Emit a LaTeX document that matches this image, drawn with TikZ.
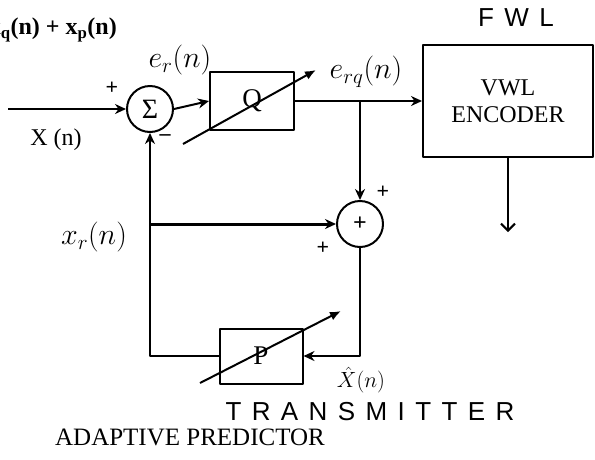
\RequirePackage{fix-cm}
\documentclass[tikz,border=0pt]{standalone}
\usepackage{fontspec}
\setmainfont{Liberation Serif}
\newfontfamily\handfont[LetterSpace=40]{Liberation Sans}
\usetikzlibrary{positioning,arrows.meta}
\tikzset{
  flowarrow/.style={-{Stealth[length=11pt, width=10pt]}, line width=2pt},
  outarrow/.style={-{Straight Barb[length=7pt, width=14pt]}, line width=2pt},
  tuner/.style={-{Latex[length=11pt, width=9pt]}, line width=2pt},
  blockbox/.style={draw, line width=2pt, align=center, font=\fontsize{24}{27}\selectfont},
  sumnode/.style={draw, circle, line width=2pt, minimum size=46pt, inner sep=0pt, font=\fontsize{26}{26}\selectfont},
  signlabel/.style={font=\fontsize{22}{22}\selectfont\bfseries, inner sep=1pt},
  mathlabel/.style={font=\fontsize{30}{32}\selectfont, inner sep=1pt},
  textlabel/.style={font=\fontsize{24}{26}\selectfont, inner sep=1pt},
  handlabel/.style={font=\fontsize{26}{28}\selectfont\handfont, inner sep=1pt}
}
\begin{document}
\begin{tikzpicture}[x=1pt, y=-1pt, line join=round]
  \useasboundingbox (0,0) rectangle (595,459);

  \node[sumnode, font=\fontsize{28}{28}\selectfont] (sum) at (150,109) {Σ};
  \node[blockbox, minimum width=84pt, minimum height=58pt, font=\fontsize{27}{27}\selectfont] (quant) at (252,101) {Q};
  \node[blockbox, minimum width=170pt, minimum height=112pt] (enc) at (508,101) {VWL\\ENCODER};
  \node[sumnode, font=\fontsize{24}{24}\selectfont\bfseries] (add) at (360,224) {+};
  \node[blockbox, minimum width=83pt, minimum height=55pt, font=\fontsize{27}{27}\selectfont] (pred) at (261,356) {P};

  \coordinate (xin) at (8,109);
  \coordinate (tap) at (add.north |- quant.east);
  \coordinate (xrtap) at (sum.south |- add.west);
  \coordinate (encout) at (508,232);
  \coordinate (qlo) at (183,144);
  \coordinate (qhi) at (316,70);
  \coordinate (plo) at (200,383);
  \coordinate (phi) at (341,311);

  \draw[flowarrow] (xin) -- (sum.west);
  \draw[flowarrow] (sum.east) -- (quant.west);
  \draw[flowarrow] (quant.east) -- (enc.west);
  \draw[flowarrow] (tap) -- (add.north);
  \draw[flowarrow, line width=3pt] (xrtap) -- (add.west);
  \draw[flowarrow] (add.south) |- (pred.east);
  \draw[flowarrow] (pred.west) -| (sum.south);
  \draw[outarrow] (enc.south) -- (encout);
  \draw[tuner] (qlo) -- (qhi);
  \draw[tuner] (plo) -- (phi);

  \node[textlabel, anchor=east, font=\fontsize{24}{26}\selectfont\bfseries] (sumtxt) at (118,30) {x$_{\mathbf{q}}$(n) + x$_{\mathbf{p}}$(n)};
  \node[signlabel] (pin) at (112,88) {+};
  \node[signlabel] (mfb) at (165,138) {--};
  \node[textlabel] (xn) at (56,140) {X (n)};
  \node[mathlabel] (er) at (180,60) {$e_r(n)$};
  \node[mathlabel] (erq) at (366,72) {$e_{rq}(n)$};
  \node[handlabel] (fwl) at (516,18) {FWL};
  \node[signlabel] (ptop) at (383,192) {+};
  \node[signlabel] (pbot) at (323,248) {+};
  \node[mathlabel] (xr) at (94,237) {$x_r(n)$};
  \node[mathlabel, font=\fontsize{22}{24}\selectfont] (xhat) at (361,380) {$\hat{X}(n)$};
  \node[handlabel] (tx) at (370,412) {TRANSMITTER};
  \node[textlabel, font=\fontsize{25}{27}\selectfont] (adp) at (190,437) {ADAPTIVE PREDICTOR};
\end{tikzpicture}
\end{document}
